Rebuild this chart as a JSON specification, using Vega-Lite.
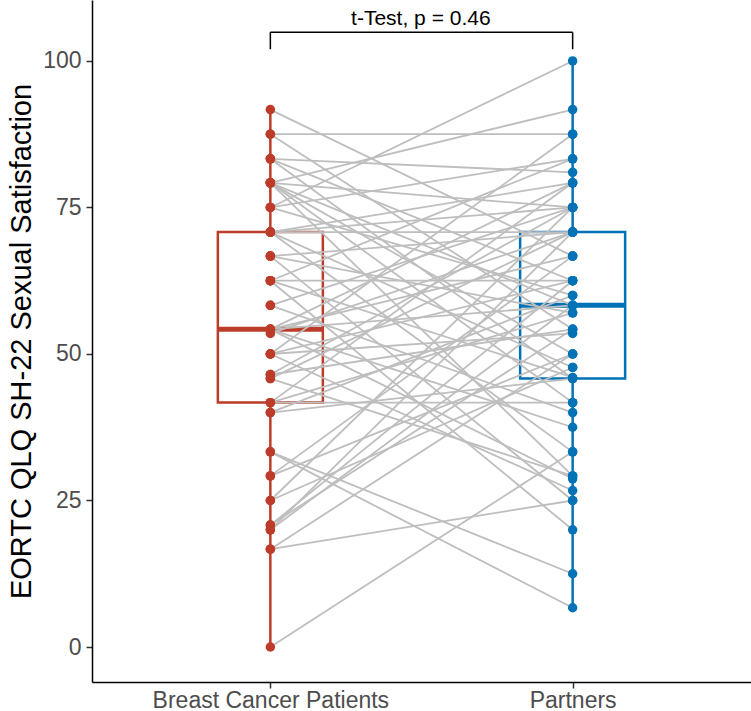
{
  "$schema": "https://vega.github.io/schema/vega-lite/v6.json",
  "width": 659,
  "height": 682,
  "autosize": {"type": "none"},
  "padding": {"left": 92, "top": 0, "right": 0, "bottom": 29},
  "background": "white",
  "config": {
    "font": "Liberation Sans",
    "view": {"stroke": null},
    "axis": {"grid": false}
  },
  "datasets": {
    "scores": [
      {"id":1,"group":"Breast Cancer Patients","value":91.7},{"id":1,"group":"Partners","value":66.7},
      {"id":2,"group":"Breast Cancer Patients","value":87.5},{"id":2,"group":"Partners","value":87.5},
      {"id":3,"group":"Breast Cancer Patients","value":87.5},{"id":3,"group":"Partners","value":54.2},
      {"id":4,"group":"Breast Cancer Patients","value":83.3},{"id":4,"group":"Partners","value":81.0},
      {"id":5,"group":"Breast Cancer Patients","value":83.3},{"id":5,"group":"Partners","value":62.5},
      {"id":6,"group":"Breast Cancer Patients","value":83.3},{"id":6,"group":"Partners","value":45.8},
      {"id":7,"group":"Breast Cancer Patients","value":79.2},{"id":7,"group":"Partners","value":91.7},
      {"id":8,"group":"Breast Cancer Patients","value":79.2},{"id":8,"group":"Partners","value":75.0},
      {"id":9,"group":"Breast Cancer Patients","value":79.2},{"id":9,"group":"Partners","value":58.3},
      {"id":10,"group":"Breast Cancer Patients","value":79.2},{"id":10,"group":"Partners","value":50.0},
      {"id":11,"group":"Breast Cancer Patients","value":79.2},{"id":11,"group":"Partners","value":41.7},
      {"id":12,"group":"Breast Cancer Patients","value":79.2},{"id":12,"group":"Partners","value":29.2},
      {"id":13,"group":"Breast Cancer Patients","value":75.0},{"id":13,"group":"Partners","value":100.0},
      {"id":14,"group":"Breast Cancer Patients","value":75.0},{"id":14,"group":"Partners","value":83.3},
      {"id":15,"group":"Breast Cancer Patients","value":75.0},{"id":15,"group":"Partners","value":60.0},
      {"id":16,"group":"Breast Cancer Patients","value":70.8},{"id":16,"group":"Partners","value":75.0},
      {"id":17,"group":"Breast Cancer Patients","value":70.8},{"id":17,"group":"Partners","value":70.8},
      {"id":18,"group":"Breast Cancer Patients","value":70.8},{"id":18,"group":"Partners","value":47.7},
      {"id":19,"group":"Breast Cancer Patients","value":70.8},{"id":19,"group":"Partners","value":33.3},
      {"id":20,"group":"Breast Cancer Patients","value":70.8},{"id":20,"group":"Partners","value":79.2},
      {"id":21,"group":"Breast Cancer Patients","value":66.7},{"id":21,"group":"Partners","value":70.8},
      {"id":22,"group":"Breast Cancer Patients","value":66.7},{"id":22,"group":"Partners","value":57.0},
      {"id":23,"group":"Breast Cancer Patients","value":66.7},{"id":23,"group":"Partners","value":25.0},
      {"id":24,"group":"Breast Cancer Patients","value":62.5},{"id":24,"group":"Partners","value":83.3},
      {"id":25,"group":"Breast Cancer Patients","value":62.5},{"id":25,"group":"Partners","value":62.5},
      {"id":26,"group":"Breast Cancer Patients","value":62.5},{"id":26,"group":"Partners","value":46.0},
      {"id":27,"group":"Breast Cancer Patients","value":62.5},{"id":27,"group":"Partners","value":20.0},
      {"id":28,"group":"Breast Cancer Patients","value":58.3},{"id":28,"group":"Partners","value":75.0},
      {"id":29,"group":"Breast Cancer Patients","value":58.3},{"id":29,"group":"Partners","value":40.0},
      {"id":30,"group":"Breast Cancer Patients","value":54.2},{"id":30,"group":"Partners","value":79.2},
      {"id":31,"group":"Breast Cancer Patients","value":54.2},{"id":31,"group":"Partners","value":66.7},
      {"id":32,"group":"Breast Cancer Patients","value":54.2},{"id":32,"group":"Partners","value":58.3},
      {"id":33,"group":"Breast Cancer Patients","value":54.2},{"id":33,"group":"Partners","value":37.5},
      {"id":34,"group":"Breast Cancer Patients","value":54.2},{"id":34,"group":"Partners","value":28.7},
      {"id":35,"group":"Breast Cancer Patients","value":53.5},{"id":35,"group":"Partners","value":70.8},
      {"id":36,"group":"Breast Cancer Patients","value":50.0},{"id":36,"group":"Partners","value":87.5},
      {"id":37,"group":"Breast Cancer Patients","value":50.0},{"id":37,"group":"Partners","value":62.5},
      {"id":38,"group":"Breast Cancer Patients","value":50.0},{"id":38,"group":"Partners","value":53.5},
      {"id":39,"group":"Breast Cancer Patients","value":50.0},{"id":39,"group":"Partners","value":26.7},
      {"id":40,"group":"Breast Cancer Patients","value":46.5},{"id":40,"group":"Partners","value":75.0},
      {"id":41,"group":"Breast Cancer Patients","value":46.5},{"id":41,"group":"Partners","value":54.2},
      {"id":42,"group":"Breast Cancer Patients","value":45.8},{"id":42,"group":"Partners","value":70.8},
      {"id":43,"group":"Breast Cancer Patients","value":45.8},{"id":43,"group":"Partners","value":29.2},
      {"id":44,"group":"Breast Cancer Patients","value":41.7},{"id":44,"group":"Partners","value":79.2},
      {"id":45,"group":"Breast Cancer Patients","value":41.7},{"id":45,"group":"Partners","value":57.0},
      {"id":46,"group":"Breast Cancer Patients","value":41.7},{"id":46,"group":"Partners","value":41.7},
      {"id":47,"group":"Breast Cancer Patients","value":40.0},{"id":47,"group":"Partners","value":60.0},
      {"id":48,"group":"Breast Cancer Patients","value":40.0},{"id":48,"group":"Partners","value":45.8},
      {"id":49,"group":"Breast Cancer Patients","value":33.3},{"id":49,"group":"Partners","value":6.7},
      {"id":50,"group":"Breast Cancer Patients","value":33.3},{"id":50,"group":"Partners","value":12.5},
      {"id":51,"group":"Breast Cancer Patients","value":29.2},{"id":51,"group":"Partners","value":66.7},
      {"id":52,"group":"Breast Cancer Patients","value":29.2},{"id":52,"group":"Partners","value":50.0},
      {"id":53,"group":"Breast Cancer Patients","value":25.0},{"id":53,"group":"Partners","value":75.0},
      {"id":54,"group":"Breast Cancer Patients","value":25.0},{"id":54,"group":"Partners","value":47.7},
      {"id":55,"group":"Breast Cancer Patients","value":20.8},{"id":55,"group":"Partners","value":62.5},
      {"id":56,"group":"Breast Cancer Patients","value":20.8},{"id":56,"group":"Partners","value":54.2},
      {"id":57,"group":"Breast Cancer Patients","value":20.0},{"id":57,"group":"Partners","value":70.8},
      {"id":58,"group":"Breast Cancer Patients","value":20.0},{"id":58,"group":"Partners","value":58.3},
      {"id":59,"group":"Breast Cancer Patients","value":16.7},{"id":59,"group":"Partners","value":50.0},
      {"id":60,"group":"Breast Cancer Patients","value":16.7},{"id":60,"group":"Partners","value":25.0},
      {"id":61,"group":"Breast Cancer Patients","value":0.0},{"id":61,"group":"Partners","value":33.3}
    ],
    "bracket": [
      {"group":"Breast Cancer Patients","group2":"Partners","y":104.9,"y0":102.0,"label":"t-Test, p = 0.46"}
    ],
    "bracketEnds": [
      {"group":"Breast Cancer Patients","y":104.9,"y0":102.0},
      {"group":"Partners","y":104.9,"y0":102.0}
    ]
  },
  "layer": [
    {
      "data": {"name": "scores"},
      "transform": [{"aggregate": [{"op":"min","field":"value","as":"lo"},{"op":"max","field":"value","as":"hi"}], "groupby": ["group"]}],
      "mark": {"type": "rule", "strokeWidth": 2.5},
      "encoding": {
        "x": {"field": "group", "type": "nominal", "scale": {"type": "point", "padding": 0.59},
              "axis": {"title": null, "labelFontSize": 23, "labelLimit": 0, "labelColor": "#4D4D4D", "labelAngle": 0, "tickSize": 6, "tickWidth": 1.5, "tickColor": "#333333", "domainColor": "#000000", "domainWidth": 1.5, "labelPadding": 1}},
        "y": {"field": "lo", "type": "quantitative", "scale": {"domain": [-5.97, 110.4], "nice": false, "zero": false},
              "axis": {"title": "EORTC QLQ SH-22 Sexual Satisfaction", "titleFontSize": 29, "titleFontWeight": "normal", "titleColor": "#000000", "titlePadding": 6, "values": [0,25,50,75,100], "labelFontSize": 23, "labelColor": "#4D4D4D", "tickSize": 6, "tickWidth": 1.5, "tickColor": "#333333", "domainColor": "#000000", "domainWidth": 1.5, "labelPadding": 5}},
        "y2": {"field": "hi"},
        "stroke": {"field": "group", "type": "nominal", "scale": {"domain": ["Breast Cancer Patients","Partners"], "range": ["#BC3C29","#0072B5"]}, "legend": null}
      }
    },
    {
      "data": {"name": "scores"},
      "transform": [{"aggregate": [{"op":"q1","field":"value","as":"q1"},{"op":"q3","field":"value","as":"q3"}], "groupby": ["group"]}],
      "mark": {"type": "bar", "fill": "white", "strokeWidth": 2.5, "width": 105},
      "encoding": {
        "x": {"field": "group", "type": "nominal"},
        "y": {"field": "q1", "type": "quantitative"},
        "y2": {"field": "q3"},
        "stroke": {"field": "group", "type": "nominal", "legend": null}
      }
    },
    {
      "data": {"name": "scores"},
      "transform": [{"aggregate": [{"op":"median","field":"value","as":"med"}], "groupby": ["group"]}],
      "mark": {"type": "tick", "orient": "horizontal", "thickness": 5, "size": 105, "opacity": 1},
      "encoding": {
        "x": {"field": "group", "type": "nominal"},
        "y": {"field": "med", "type": "quantitative"},
        "color": {"field": "group", "type": "nominal", "scale": {"domain": ["Breast Cancer Patients","Partners"], "range": ["#BC3C29","#0072B5"]}, "legend": null}
      }
    },
    {
      "data": {"name": "scores"},
      "mark": {"type": "line", "color": "#BEBEBE", "strokeWidth": 1.8},
      "encoding": {
        "x": {"field": "group", "type": "nominal"},
        "y": {"field": "value", "type": "quantitative"},
        "detail": {"field": "id", "type": "nominal"}
      }
    },
    {
      "data": {"name": "scores"},
      "mark": {"type": "circle", "size": 90, "opacity": 1},
      "encoding": {
        "x": {"field": "group", "type": "nominal"},
        "y": {"field": "value", "type": "quantitative"},
        "color": {"field": "group", "type": "nominal", "legend": null}
      }
    },
    {
      "data": {"name": "bracket"},
      "mark": {"type": "rule", "color": "#000000", "strokeWidth": 1.5},
      "encoding": {
        "x": {"field": "group", "type": "nominal"},
        "x2": {"field": "group2"},
        "y": {"field": "y", "type": "quantitative"}
      }
    },
    {
      "data": {"name": "bracketEnds"},
      "mark": {"type": "rule", "color": "#000000", "strokeWidth": 1.5},
      "encoding": {
        "x": {"field": "group", "type": "nominal"},
        "y": {"field": "y0", "type": "quantitative"},
        "y2": {"field": "y"}
      }
    },
    {
      "data": {"name": "bracket"},
      "mark": {"type": "text", "fontSize": 21, "color": "#000000", "align": "center", "baseline": "middle", "dx": 150.5},
      "encoding": {
        "x": {"field": "group", "type": "nominal"},
        "y": {"datum": 107.2, "type": "quantitative"},
        "text": {"field": "label"}
      }
    }
  ]
}
